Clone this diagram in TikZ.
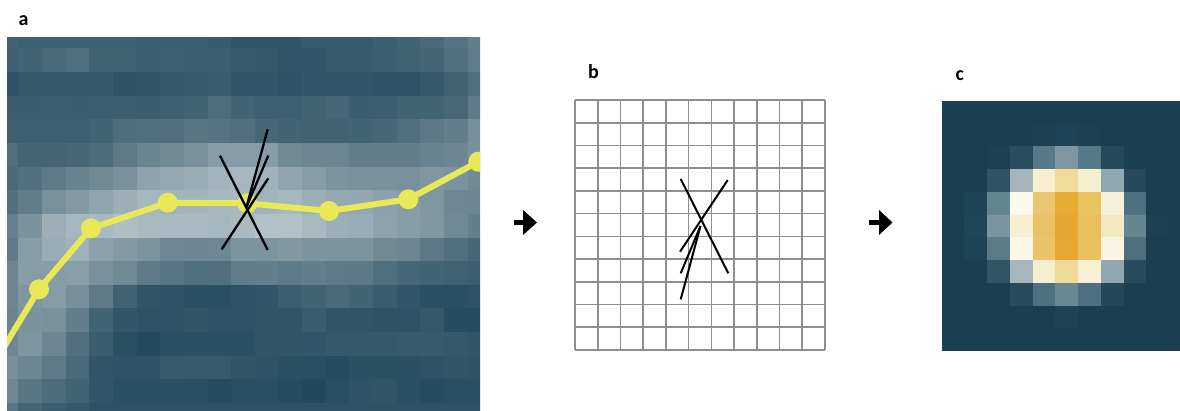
\documentclass[tikz,border=0pt]{standalone}
\usepackage{fontspec}
\setmainfont{Carlito}
\definecolor{Dc}{HTML}{22475C}
\definecolor{Lc}{HTML}{C9D6D9}
\definecolor{ylw}{HTML}{E8E858}
\definecolor{gridc}{HTML}{8E8E8E}
\definecolor{cbg}{HTML}{1C3E51}
\begin{document}
\begin{tikzpicture}[x=1pt,y=-1pt,
  yel/.style={draw=ylw,line width=6pt,line join=round},
  ydot/.style={fill=ylw},
  stick/.style={draw=black,line width=2.3pt},
  stickb/.style={draw=black,line width=2pt},
  gridl/.style={draw=gridc,line width=1.7pt},
  lbl/.style={inner sep=0pt,anchor=base west,font=\bfseries\fontsize{20}{24}\selectfont},
  arr/.style={fill=black}]
\useasboundingbox (0,0) rectangle (1180,410);
% ---------- panel a ----------
\begin{scope}
\clip (7,37.5) rectangle (480,410);
\foreach \row [count=\r from 0] in {
{17,15,15,15,15,15,14,14,14,12,8,8,8,11,11,11,14,18,22,28,36},
{15,18,22,25,18,16,14,15,14,14,11,10,9,9,11,12,14,16,19,27,34},
{6,10,10,10,10,7,8,10,12,13,9,9,7,9,9,9,7,7,10,17,25},
{13,13,14,13,14,14,13,15,18,24,18,15,15,18,20,13,14,18,18,21,33},
{15,15,15,15,18,24,25,26,30,28,26,20,18,17,17,18,20,26,32,36,48},
{25,19,19,20,23,33,40,44,50,58,58,58,44,41,41,36,36,36,39,41,50},
{22,27,33,39,44,50,62,66,70,75,78,74,63,58,52,50,50,49,54,51,44},
{27,35,49,56,64,72,77,75,75,78,79,75,78,72,66,65,61,58,54,42,41},
{37,51,72,78,79,82,80,80,79,77,80,85,85,79,72,69,62,58,55,44,36},
{33,58,69,74,61,56,52,42,41,42,52,52,55,52,52,52,44,41,32,26,20},
{41,58,58,59,50,44,33,29,25,26,34,36,33,36,33,32,25,20,18,16,14},
{41,54,58,48,33,17,8,6,5,4,7,9,14,18,22,18,13,9,5,5,6},
{40,51,50,36,18,9,6,7,8,7,6,8,9,13,9,8,7,7,10,3,3},
{42,53,41,26,13,4,2,4,5,5,5,8,8,9,10,10,10,11,11,10,9},
{48,41,33,22,9,7,7,11,11,11,8,7,5,4,3,5,5,5,7,8,7},
{42,30,23,18,9,5,5,5,4,3,4,4,3,1,4,7,8,5,3,4,5},
{29,19,13,10,6,6,6,6,6,6,6,6,6,6,6,6,6,6,6,6,6}}{
  \foreach \v [count=\c from 0] in \row {
    \pgfmathtruncatemacro\p{100*pow(\v/100,0.92)}
    \fill[Lc!\p!Dc] ({18.3+23.65*(\c-1)},{48.3+23.65*(\r-1)}) rectangle ++(23.8,23.8);
  }
}
\coordinate (y0) at (0,353.7);
\coordinate (y1) at (39,289.3);
\coordinate (y2) at (91,228.3);
\coordinate (y3) at (167.7,202.7);
\coordinate (y4) at (247.3,203.3);
\coordinate (y5) at (329,211);
\coordinate (y6) at (408.3,199.3);
\coordinate (y7) at (478.3,161.7);
\coordinate (y8) at (495,152.7);
\draw[yel] (y0) -- (y1) -- (y2) -- (y3) -- (y4) -- (y5) -- (y6) -- (y7) -- (y8);
\foreach \k in {1,...,7} { \fill[ydot] (y\k) circle[radius=10pt]; }
\coordinate (a1) at (220,155.7);
\coordinate (a2) at (267.7,250);
\coordinate (a3) at (221.7,249.3);
\coordinate (a4) at (268.3,178.3);
\coordinate (ac) at (246.5,207);
\coordinate (a5) at (267.7,129.3);
\coordinate (a6) at (268.3,155.5);
\draw[stick] (a1) -- (a2);
\draw[stick] (a3) -- (a4);
\draw[stick] (ac) -- (a5);
\draw[stick] (ac) -- (a6);
\end{scope}
\node[lbl] (la) at (18.5,25) {a};
% ---------- arrows ----------
\fill[arr] (514,220.2) rectangle (524,224.8);
\fill[arr] (523,210) -- (537,222.5) -- (523,235) -- cycle;
\fill[arr] (869,220.2) rectangle (880,224.8);
\fill[arr] (879,210) -- (892.5,222.5) -- (879,235) -- cycle;
% ---------- panel b ----------
\foreach \i in {0,...,11} {
  \draw[gridl] ({575+250*\i/11},100) -- ({575+250*\i/11},350);
  \draw[gridl] (575,{100+250*\i/11}) -- (825,{100+250*\i/11});
}
\node[lbl] (lb) at (588,78.5) {b};
\coordinate (b1) at (680.7,179);
\coordinate (b2) at (728.3,273.3);
\coordinate (b3) at (727.7,180);
\coordinate (b4) at (680,251.7);
\coordinate (bc) at (700.5,226);
\coordinate (b5) at (680.7,273.3);
\coordinate (b6) at (680.7,299.3);
\draw[stickb] (b1) -- (b2);
\draw[stickb] (b3) -- (b4);
\draw[stickb] (bc) -- (b5);
\draw[stickb] (bc) -- (b6);
% ---------- panel c ----------
\begin{scope}
\clip (941.7,101) rectangle (1180,351);
\fill[cbg] (941.7,101) rectangle (1180,351);
\foreach \r/\c/\h in {
1/4/1D4053,1/5/1F4356,1/6/1D4053,
2/2/1E4053,2/3/2B4D5F,2/4/587A88,2/5/7F97A2,2/6/587A88,2/7/264A5C,
3/2/2F5264,3/3/A4B5BC,3/4/F7F0D0,3/5/EFDB9A,3/6/F5EED0,3/7/90A8B2,3/8/28495B,
4/1/1F4356,4/2/638592,4/3/FDF9EA,4/4/EBC56F,4/5/E8AB34,4/6/E9C35E,4/7/F7F1DC,4/8/4E7080,
5/1/214558,5/2/7B95A0,5/3/F5EED0,5/4/EBC263,5/5/E6A62F,5/6/E8BF5A,5/7/F3E8C0,5/8/658592,5/9/1F4052,
6/1/1F4356,6/2/5B7B88,6/3/FBF8E6,6/4/EBC468,6/5/E7A730,6/6/E9C05D,6/7/F9F5E2,6/8/4F6F7E,
7/2/325566,7/3/A5B6BC,7/4/F6EED0,7/5/EFDA98,7/6/F7F0D5,7/7/91A8B2,7/8/2A4B5D,
8/3/2A4B5D,8/4/4E7080,8/5/6A8894,8/6/4E7080,8/7/244759,
9/5/1F4254}{
  \definecolor{tmpc}{HTML}{\h}
  \fill[tmpc] ({941.7+22.73*\c},{101+22.73*\r}) rectangle ++(22.83,22.83);
}
\end{scope}
\node[lbl] (lc) at (955.5,80.5) {c};
\end{tikzpicture}
\end{document}
